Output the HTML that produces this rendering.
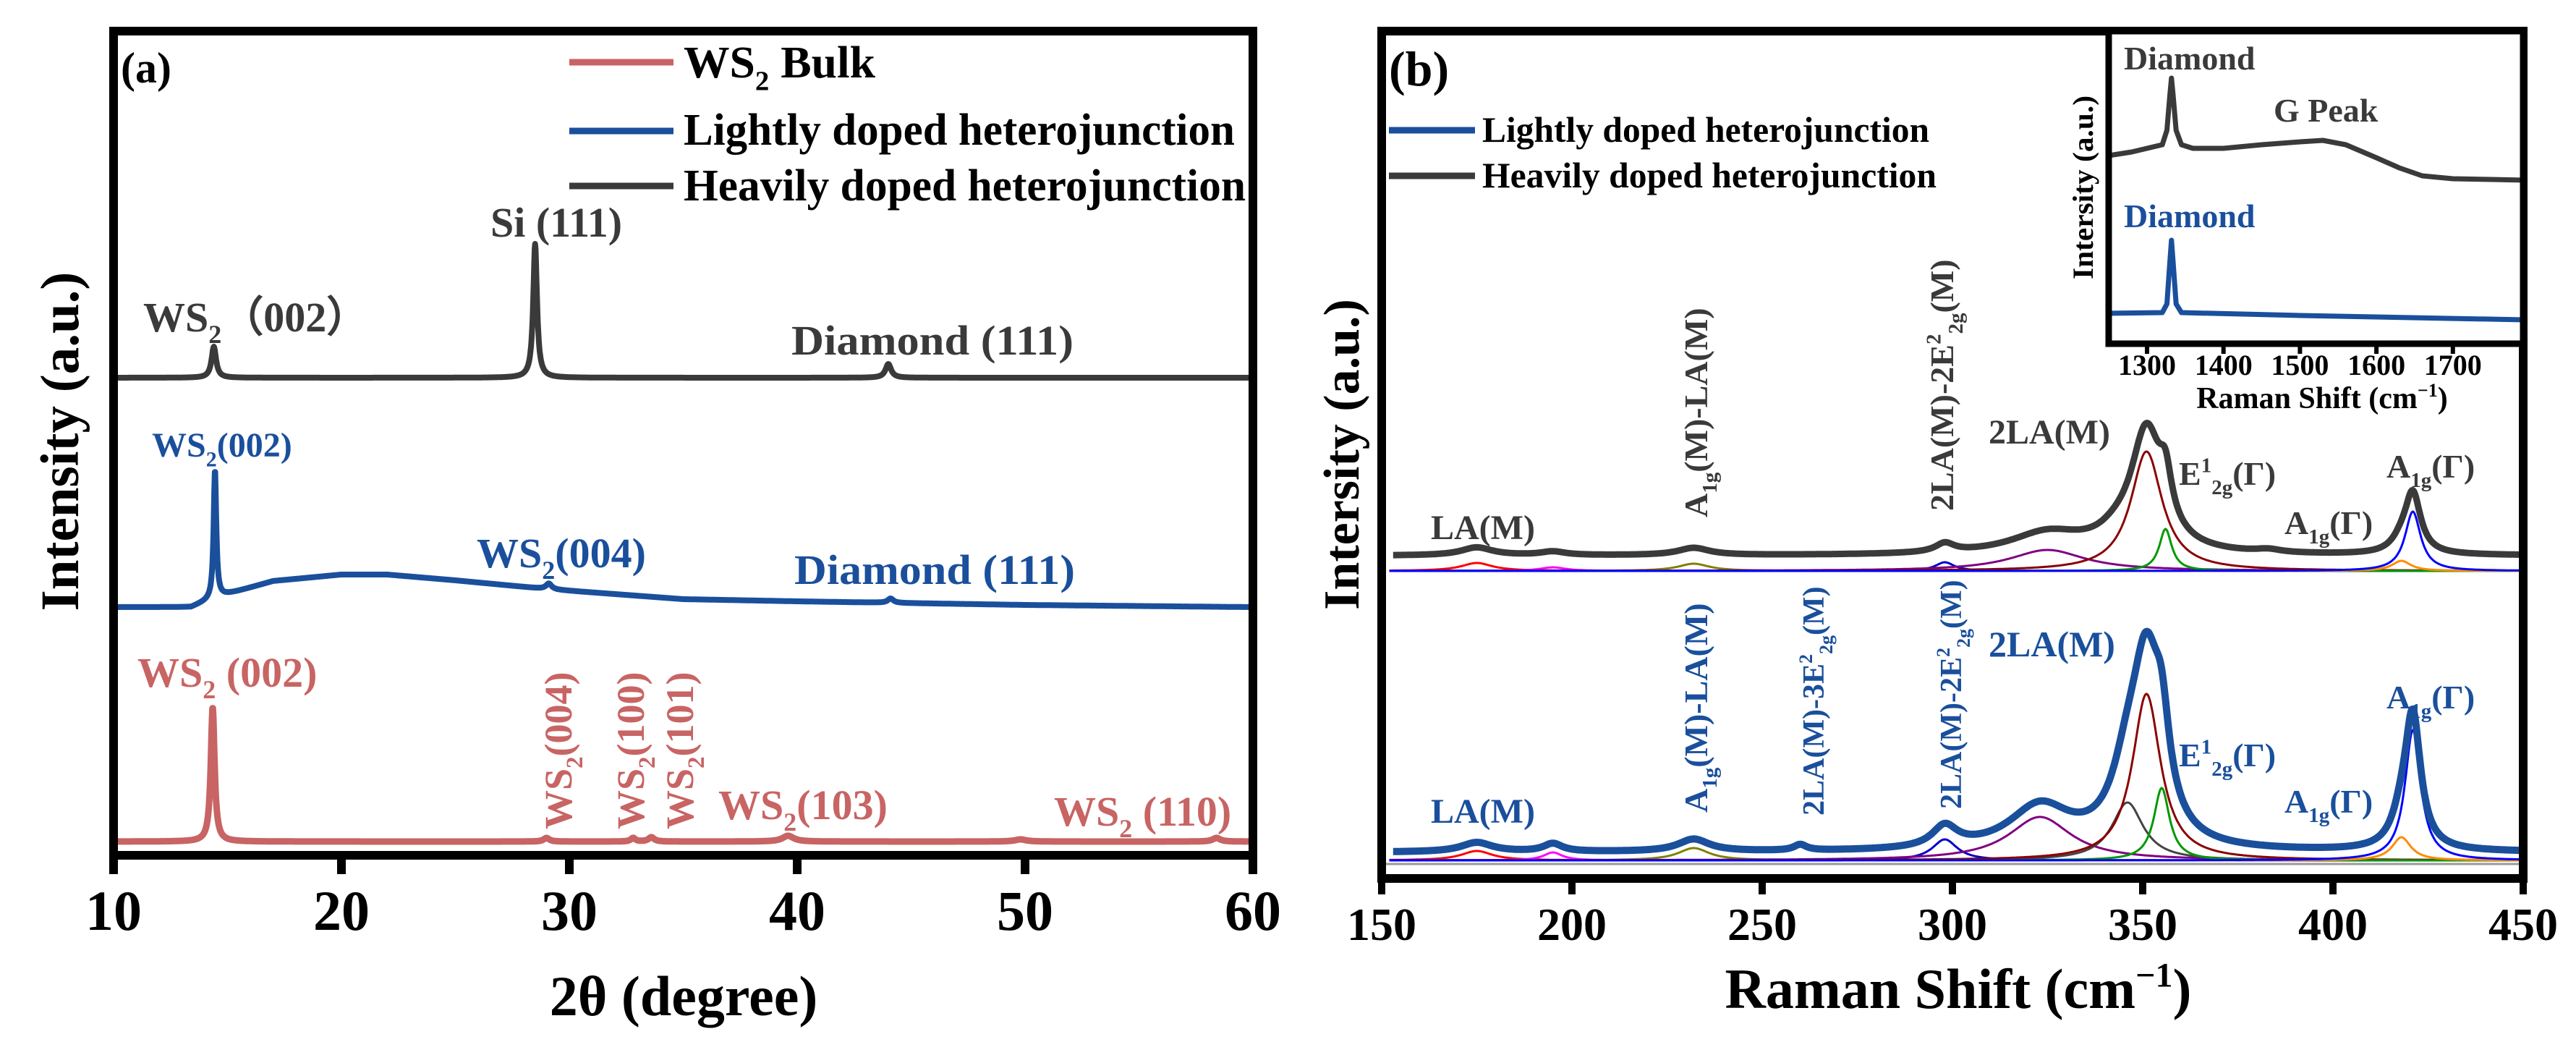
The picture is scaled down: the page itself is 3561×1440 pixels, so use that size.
<!DOCTYPE html>
<html><head><meta charset="utf-8"><style>
html,body{margin:0;padding:0;background:#fff}
svg{display:block}
text{font-family:"Liberation Serif","Times New Roman",serif;font-weight:bold}
</style></head><body>
<svg id="fig" width="3561" height="1440" viewBox="0 0 3561 1440" xmlns="http://www.w3.org/2000/svg" font-family="Liberation Serif, Times New Roman, serif" font-weight="bold">
<rect x="0" y="0" width="3561" height="1440" fill="#fff"/>
<g id="pa"></g>
<g id="pb"></g>
<g id="pi"></g>
</svg>
<script>
// ---------- Panel (a) XRD data ----------
const aTicks = [10,20,30,40,50,60];
const heavyAPeaks = [[14.4,43,0.12],[28.5,185,0.1],[44.0,19,0.15]];
const lightABgX = [10,13.4,13.9,14.6,15,17,20,22,25,29,35,40,44,50,60];
const lightABgV = [0,0,6,14,18,36,45,45,37,25,11,8,6,3,0];
const lightAPeaks = [[14.45,178,0.07],[29.1,8,0.15],[44.1,6,0.15]];
const bulkAPeaks = [[14.35,186,0.1],[29.0,5,0.15],[32.8,5,0.12],[33.6,6,0.15],[39.6,8,0.3],[49.8,3,0.3],[58.4,5,0.2]];
// ---------- Panel (b) Raman data ----------
const bTicks = [150,200,250,300,350,400,450];
const heavyBComps = [[175,5,11],[195,4,5],[232,5,10],[298,3,12],[325,12,29],[351,5,165],[356,2,58],[418,3,14],[421,2.5,82]];
const heavyBExtra = [[383,4,4],[343,6,14]];
const heavyBOffset = 21;
const blueBComps = [[175,5,13],[195,3,11],[232,5,17],[298,4,29],[323,10,60],[346,5,80],[351,4.5,230],[355,2.5,100],[418,3,32],[421,2.5,180]];
const blueBExtra = [[260,2,8]];
const blueBOffset = 11;
const heavyCompColors = ['#ff0000','#ff00ff','#808000','#0000cc','#800080','#8b0000','#009900','#ff8c00','#0000ff'];
const blueCompColors = ['#ff0000','#ff00ff','#808000','#0000cc','#800080','#444444','#8b0000','#009900','#ff8c00','#0000ff'];
// ---------- Inset data ----------
const insetTicks = [1300,1400,1500,1600,1700];
const insetX = [1250,1280,1300,1320,1326,1330,1332,1334,1338,1345,1360,1400,1450,1500,1530,1560,1600,1630,1660,1700,1750,1795];
const insetHeavy = [245,250,255,260,280,330,352,330,280,260,255,255,260,264,266,260,242,228,217,213,212,211];
const insetBlueX = [1250,1320,1326,1330,1332,1334,1338,1345,1500,1795];
const insetBlue = [27,28,40,100,128,100,40,28,24,18];

const NS='http://www.w3.org/2000/svg';
const FF='"Liberation Serif","Times New Roman",serif';
function mk(parent,tag,attrs){const e=document.createElementNS(NS,tag);for(const k in attrs)e.setAttribute(k,attrs[k]);parent.appendChild(e);return e;}
function lor(x,c,w){const d=(x-c)/w;return 1/(1+d*d);}
function interp(xs,vs,x){if(x<=xs[0])return vs[0];for(let i=1;i<xs.length;i++){if(x<=xs[i]){const t=(x-xs[i-1])/(xs[i]-xs[i-1]);return vs[i-1]+t*(vs[i]-vs[i-1]);}}return vs[vs.length-1];}
function sumPeaks(x,peaks){let s=0;for(const p of peaks)s+=p[1]*lor(x,p[0],p[2]);return s;}
function sumComps(x,comps){let s=0;for(const p of comps)s+=p[2]*lor(x,p[0],p[1]);return s;}
function txt(parent,x,y,size,fill,parts,opts){
  opts=opts||{};
  const t=mk(parent,'text',{x:x,y:y,'font-size':size,fill:fill,'font-family':FF,'font-weight':'bold'});
  if(opts.anchor)t.setAttribute('text-anchor',opts.anchor);
  if(opts.len){t.setAttribute('textLength',opts.len);t.setAttribute('lengthAdjust','spacingAndGlyphs');}
  if(opts.rot)t.setAttribute('transform','rotate(-90 '+x+' '+y+')');
  let shift=0;
  for(const p of parts){
    if(typeof p==='string'){const s=mk(t,'tspan',{dy:-shift});s.textContent=p;shift=0;}
    else{const fs=Math.round(size*0.62);const target=p[1]==='sub'?size*0.28:-size*0.38;
      const s=mk(t,'tspan',{dy:target-shift,'font-size':fs});s.textContent=p[0];shift=target;}
  }
  return t;
}

// ================= PANEL A =================
const pa=document.getElementById('pa');
const aL=157,aR=1732,aT=43,aB=1182;
function xa(v){return aL+(v-10)*(aR-aL)/50;}
function pathFrom(fn,x0,x1,step,xs){let d='';for(let v=x0;v<=x1+1e-9;v+=step){d+=(d?'L':'M')+xs(v).toFixed(1)+' '+fn(v).toFixed(1);}return d;}
const heavyA=mk(pa,'path',{d:pathFrom(v=>522-sumPeaks(v,heavyAPeaks),10,60,0.02,xa),fill:'none',stroke:'#3a3a3a','stroke-width':8,'stroke-linejoin':'round'});

const lightA=mk(pa,'path',{d:pathFrom(v=>839-interp(lightABgX,lightABgV,v)-sumPeaks(v,lightAPeaks),10,60,0.02,xa),fill:'none',stroke:'#1a4f9c','stroke-width':8,'stroke-linejoin':'round'});

const bulkA=mk(pa,'path',{d:pathFrom(v=>1163-sumPeaks(v,bulkAPeaks),10,60,0.02,xa),fill:'none',stroke:'#c86464','stroke-width':9,'stroke-linejoin':'round'});

const frA=mk(pa,'rect',{x:aL,y:aT,width:aR-aL,height:aB-aT,fill:'none',stroke:'#000','stroke-width':12});

for(const t of aTicks){
  const tk=mk(pa,'line',{x1:xa(t),x2:xa(t),y1:aB,y2:aB+26,stroke:'#000','stroke-width':12});
  
  const tl=txt(pa,xa(t),1285,78,'#000',[String(t)],{anchor:'middle'});
  
}
let e;
e=txt(pa,167,114,60,'#000',['(a)']);
const legA=[[86,107,'#c86464',['WS',['2','sub'],' Bulk'],265],[181,200,'#1a4f9c',['Lightly doped heterojunction'],762],[257,277,'#3a3a3a',['Heavily doped heterojunction'],777]];
for(const l of legA){
  const ln=mk(pa,'line',{x1:787,x2:931,y1:l[0],y2:l[0],stroke:l[2],'stroke-width':9});
  
  const lt=txt(pa,945,l[1],62,'#000',l[3],{len:l[4]});
  
}
e=txt(pa,198,458,58,'#3a3a3a',['WS',['2','sub'],'（002）']);
e=txt(pa,678,327,58,'#3a3a3a',['Si (111)']);
e=txt(pa,1094,490,58,'#3a3a3a',['Diamond (111)'],{len:390});
e=txt(pa,210,631,48,'#1a4f9c',['WS',['2','sub'],'(002)']);
e=txt(pa,659,784,58,'#1a4f9c',['WS',['2','sub'],'(004)']);
e=txt(pa,1098,807,58,'#1a4f9c',['Diamond (111)'],{len:388});
e=txt(pa,190,949,58,'#c86464',['WS',['2','sub'],' (002)']);
e=txt(pa,790,1146,54,'#c86464',['WS',['2','sub'],'(004)'],{rot:true});
e=txt(pa,890,1146,54,'#c86464',['WS',['2','sub'],'(100)'],{rot:true});
e=txt(pa,958,1146,54,'#c86464',['WS',['2','sub'],'(101)'],{rot:true});
e=txt(pa,993,1132,58,'#c86464',['WS',['2','sub'],'(103)']);
e=txt(pa,1457,1141,58,'#c86464',['WS',['2','sub'],' (110)']);
e=txt(pa,108,610,75,'#000',['Intensity (a.u.)'],{anchor:'middle',rot:true});
e=txt(pa,945,1403,78,'#000',['2θ (degree)'],{anchor:'middle'});

// ================= PANEL B =================
const pb=document.getElementById('pb');
const bL=1910,bR=3488,bT=43,bB=1214;
function xb(v){return bL+(v-150)*(bR-bL)/300;}
heavyBComps.forEach((c,i)=>{
  const p=mk(pb,'path',{d:pathFrom(v=>789-c[2]*lor(v,c[0],c[1]),152,450,0.25,xb),fill:'none',stroke:heavyCompColors[i],'stroke-width':3});
  
});
blueBComps.forEach((c,i)=>{
  const p=mk(pb,'path',{d:pathFrom(v=>1189-c[2]*lor(v,c[0],c[1]),152,450,0.25,xb),fill:'none',stroke:blueCompColors[i],'stroke-width':3});
  
});
e=mk(pb,'line',{x1:bL,x2:bR,y1:1194,y2:1194,stroke:'#999','stroke-width':3});
const heavyB=mk(pb,'path',{d:pathFrom(v=>789-heavyBOffset-sumComps(v,heavyBComps)-sumComps(v,heavyBExtra),153,450,0.25,xb),fill:'none',stroke:'#3a3a3a','stroke-width':9,'stroke-linejoin':'round'});

const blueB=mk(pb,'path',{d:pathFrom(v=>1189-blueBOffset-sumComps(v,blueBComps)-sumComps(v,blueBExtra),153,450,0.25,xb),fill:'none',stroke:'#1a4f9c','stroke-width':10,'stroke-linejoin':'round'});

const frB=mk(pb,'rect',{x:bL,y:bT,width:bR-bL,height:bB-bT,fill:'none',stroke:'#000','stroke-width':12});

for(const t of bTicks){
  const tk=mk(pb,'line',{x1:xb(t),x2:xb(t),y1:bB,y2:bB+22,stroke:'#000','stroke-width':10});
  
  const tl=txt(pb,xb(t),1299,64,'#000',[String(t)],{anchor:'middle'});
  
}
e=txt(pb,1920,118,68,'#000',['(b)']);
const legB=[[180,196,'#1a4f9c',['Lightly doped heterojunction'],618],[243,259,'#3a3a3a',['Heavily doped heterojunction'],628]];
for(const l of legB){
  const ln=mk(pb,'line',{x1:1920,x2:2039,y1:l[0],y2:l[0],stroke:l[2],'stroke-width':9});
  
  const lt=txt(pb,2049,l[1],50,'#000',l[3],{len:l[4]});
  
}
const G='#3a3a3a',B='#1a4f9c';
const bLabels=[
 [1978,745,48,G,['LA(M)'],false,'label-la-heavy'],
 [2360,715,46,G,['A',['1g','sub'],'(M)-LA(M)'],true,'label-a1g-la-heavy'],
 [2700,706,46,G,['2LA(M)-2E',['2','sup'],['2g','sub'],'(M)'],true,'label-2la-2e-heavy'],
 [2749,613,48,G,['2LA(M)'],false,'label-2la-heavy'],
 [3012,670,46,G,['E',['1','sup'],['2g','sub'],'(Γ)'],false,'label-e2g-heavy'],
 [3158,738,46,G,['A',['1g','sub'],'(Γ)'],false,'label-a1g-small-heavy'],
 [3299,660,46,G,['A',['1g','sub'],'(Γ)'],false,'label-a1g-heavy'],
 [1978,1137,48,B,['LA(M)'],false,'label-la-light'],
 [2360,1123,46,B,['A',['1g','sub'],'(M)-LA(M)'],true,'label-a1g-la-light'],
 [2521,1127,42,B,['2LA(M)-3E',['2','sup'],['2g','sub'],'(M)'],true,'label-2la-3e-light'],
 [2711,1118,42,B,['2LA(M)-2E',['2','sup'],['2g','sub'],'(M)'],true,'label-2la-2e-light'],
 [2749,907,50,B,['2LA(M)'],false,'label-2la-light'],
 [3012,1059,46,B,['E',['1','sup'],['2g','sub'],'(Γ)'],false,'label-e2g-light'],
 [3158,1123,46,B,['A',['1g','sub'],'(Γ)'],false,'label-a1g-small-light'],
 [3299,979,46,B,['A',['1g','sub'],'(Γ)'],false,'label-a1g-light']
];
for(const l of bLabels){
  const t=txt(pb,l[0],l[1],l[2],l[3],l[4],{rot:l[5]});
  
}
e=txt(pb,1878,628,70,'#000',['Intersity (a.u.)'],{anchor:'middle',rot:true});
e=txt(pb,2707,1393,78,'#000',['Raman Shift (cm',['−1','sup'],')'],{anchor:'middle'});

// ================= INSET =================
const pi=document.getElementById('pi');
const iL=2915,iR=3488,iT=43,iB=475;
function xi(v){return 2968+(v-1300)*1.057;}
function yi(v){return 460-v;}
e=mk(pi,'rect',{x:iL,y:iT,width:iR-iL,height:iB-iT,fill:'#fff',stroke:'#000','stroke-width':9});
function poly(xs,vs){return xs.map((x,i)=>(i?'L':'M')+xi(x).toFixed(1)+' '+yi(vs[i]).toFixed(1)).join('');}
e=mk(pi,'path',{d:poly(insetX,insetHeavy),fill:'none',stroke:'#3a3a3a','stroke-width':7,'stroke-linejoin':'round'});
e=mk(pi,'path',{d:poly(insetBlueX,insetBlue),fill:'none',stroke:'#1a4f9c','stroke-width':7,'stroke-linejoin':'round'});
mk(pi,'rect',{x:iL,y:iT,width:iR-iL,height:iB-iT,fill:'none',stroke:'#000','stroke-width':9});
for(const t of insetTicks){
  const tk=mk(pi,'line',{x1:xi(t),x2:xi(t),y1:iB,y2:iB+14,stroke:'#000','stroke-width':6});
  
  const tl=txt(pi,xi(t),518,40,'#000',[String(t)],{anchor:'middle'});
  
}
e=txt(pi,3210,564,42,'#000',['Raman Shift (cm',['−1','sup'],')'],{anchor:'middle'});
e=txt(pi,2893,259,40,'#000',['Intersity (a.u.)'],{anchor:'middle',rot:true,len:254});
e=txt(pi,2936,96,46,'#3a3a3a',['Diamond']);
e=txt(pi,3143,168,46,'#3a3a3a',['G Peak']);
e=txt(pi,2936,314,46,'#1a4f9c',['Diamond']);
</script>
</body></html>
